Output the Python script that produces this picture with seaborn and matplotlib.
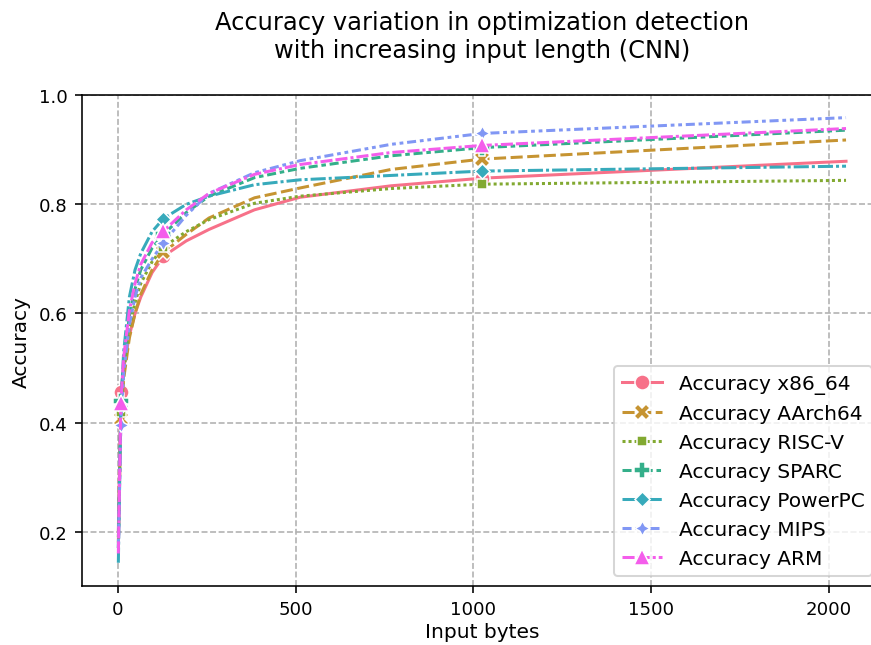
import seaborn as sns
import numpy as np
import matplotlib.pyplot as plt
import pandas as pd

# input length (bytes) at which accuracy was measured
input_bytes = [1, 8, 16, 32, 48, 64, 96, 128, 192, 256, 384, 512, 768, 1024, 2048]

acc_x86_64 = [0.200, 0.456, 0.500, 0.560, 0.600, 0.630, 0.675, 0.705, 0.733, 0.754, 0.790, 0.813, 0.834, 0.848, 0.879]
acc_aarch64 = [0.180, 0.406, 0.480, 0.555, 0.600, 0.635, 0.680, 0.712, 0.745, 0.775, 0.812, 0.830, 0.864, 0.883, 0.918]
acc_riscv = [0.190, 0.420, 0.490, 0.575, 0.620, 0.655, 0.695, 0.722, 0.750, 0.772, 0.802, 0.815, 0.829, 0.837, 0.844]
acc_sparc = [0.170, 0.439, 0.510, 0.595, 0.645, 0.680, 0.720, 0.745, 0.785, 0.815, 0.849, 0.866, 0.889, 0.904, 0.936]
acc_powerpc = [0.143, 0.430, 0.530, 0.630, 0.680, 0.710, 0.750, 0.774, 0.800, 0.815, 0.836, 0.845, 0.853, 0.861, 0.870]
acc_mips = [0.170, 0.395, 0.490, 0.580, 0.630, 0.665, 0.700, 0.730, 0.780, 0.820, 0.858, 0.880, 0.910, 0.930, 0.959]
acc_arm = [0.160, 0.436, 0.520, 0.605, 0.655, 0.690, 0.730, 0.751, 0.790, 0.820, 0.855, 0.873, 0.895, 0.908, 0.939]

series = {
    "Accuracy x86_64": acc_x86_64,
    "Accuracy AArch64": acc_aarch64,
    "Accuracy RISC-V": acc_riscv,
    "Accuracy SPARC": acc_sparc,
    "Accuracy PowerPC": acc_powerpc,
    "Accuracy MIPS": acc_mips,
    "Accuracy ARM": acc_arm,
}
df = pd.DataFrame(series, index=pd.Index(input_bytes, name="Input bytes"))

# the saved picture cuts the axes a little on the right
fig = plt.figure(figsize=(871 / 145, 646 / 145), dpi=145)
ax = fig.add_axes([0.0941, 0.091, 0.919, 0.760])
sns.lineplot(data=df, palette="husl", markers=True, markevery=[1, 7, 13],
             linewidth=1.5, markersize=7.5, ax=ax)

ax.set_ylim(0.1, 1.0)
ax.set_xticks([0, 500, 1000, 1500, 2000])
ax.set_yticks([0.2, 0.4, 0.6, 0.8, 1.0])
ax.grid(True, linestyle="--", color="#b0b0b0", linewidth=0.8)
ax.tick_params(labelsize=9)
ax.set_xlabel("Input bytes", fontsize=10, labelpad=2)
ax.set_ylabel("Accuracy", fontsize=10)
ax.set_title("Accuracy variation in optimization detection\nwith increasing input length (CNN)",
             fontsize=12, pad=19)
ax.legend(loc="lower right", fontsize=10)

plt.savefig("out.png", dpi=145)
